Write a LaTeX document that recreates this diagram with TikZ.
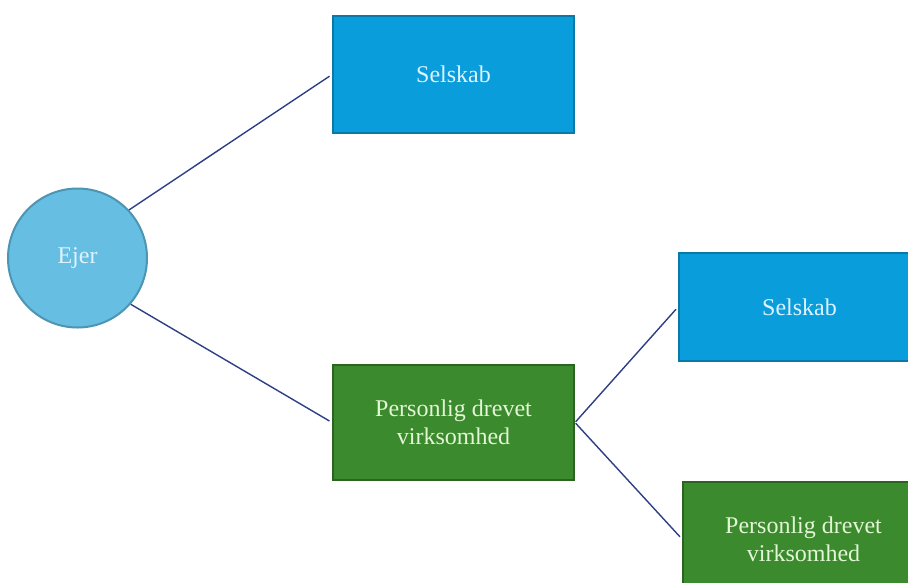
\documentclass[tikz,border=0pt]{standalone}
\usepackage{fontspec}
\setmainfont{Liberation Serif}
\definecolor{boxblue}{HTML}{0A9DDC}
\definecolor{boxblueline}{HTML}{0B78A6}
\definecolor{circblue}{HTML}{66BEE3}
\definecolor{circline}{HTML}{4C95B3}
\definecolor{boxgreen}{HTML}{3B8A2D}
\definecolor{boxgreenline}{HTML}{2A6420}
\definecolor{linkcol}{HTML}{2E3F86}
\definecolor{bluetext}{HTML}{DDF3FF}
\definecolor{greentext}{HTML}{E3F6D6}
\begin{document}
\begin{tikzpicture}[x=1pt,y=-1pt,
  every node/.style={font=\fontsize{24}{28}\selectfont, align=center, inner sep=0pt},
  owner/.style={circle, minimum size=139pt, fill=circblue, draw=circline, line width=2pt, text=bluetext},
  company/.style={rectangle, minimum width=241pt, fill=boxblue, draw=boxblueline, line width=2pt, text=bluetext},
  personal/.style={rectangle, minimum width=241pt, fill=boxgreen, draw=boxgreenline, line width=2pt, text=greentext},
  link/.style={draw=linkcol, line width=1.4pt, shorten >=3pt}
]
\clip (0,0) rectangle (908,582);
\fill[white] (0,0) rectangle (908,582);

\node[owner] (ejer) at (77.5,258) {Ejer};
\node[company, minimum height=117pt] (s1) at (453.5,74.5) {Selskab};
\node[personal, minimum height=115pt] (p1) at (453.5,422.5) {Personlig drevet\\virksomhed};
\node[company, minimum height=108pt] (s2) at (799.5,307) {Selskab};
\node[personal, minimum height=114pt] (p2) at (803.5,539) {Personlig drevet\\virksomhed};

\draw[link] (ejer.43.5) -- (s1.west);
\draw[link] (ejer.-41.5) -- (p1.west);
\draw[link, shorten <=1pt] (p1.east) -- (s2.west);
\draw[link, shorten <=1pt] (p1.east) -- (p2.west);
\end{tikzpicture}
\end{document}
